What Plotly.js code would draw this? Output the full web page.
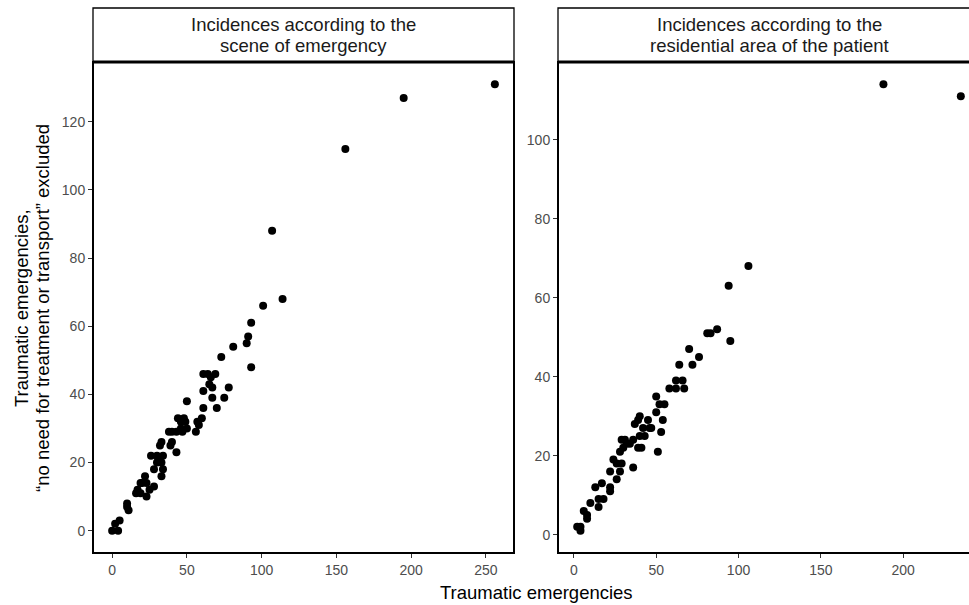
<!DOCTYPE html>
<html>
<head>
<meta charset="utf-8">
<script src="https://cdn.plot.ly/plotly-3.0.1.min.js"></script>
<style>
html,body{margin:0;padding:0;overflow:hidden;background:#fff;}
#chart{width:990px;height:605px;}
</style>
</head>
<body>
<div id="chart"></div>
<script>
// Panel titles (two lines each)
const panelTitles = [
  ["Incidences according to the", "scene of emergency"],
  ["Incidences according to the", "residential area of the patient"]
];
const xAxisTitle = "Traumatic emergencies";
const yAxisTitle = ["Traumatic emergencies,", "“no need for treatment or transport” excluded"];

// Left panel: scene of emergency
const sceneX = [0,4,2,5,10,11,10,17,19,23,20,19,23,25,28,22,16,26,30,34,31,33,28,34,33,30,33,32,40,39,43,44,48,49,46,50,46,47,43,38,40,50,61,60,57,58,56,61,64,69,66,65,61,67,67,70,75,78,73,81,90,91,93,93,101,114,107,156,195,256];
const sceneY = [0,0,2,3,8,6,7,12,11,10,14,14,14,12,13,16,11,22,22,22,21,20,18,18,16,20,26,25,26,25,23,33,33,32,32,30,30,29,29,29,29,38,36,33,32,31,29,46,46,46,45,43,41,42,39,36,39,42,51,54,55,57,61,48,66,68,88,112,127,131];

// Right panel: residential area of the patient
const resX = [2,4,4,6,8,8,10,15,15,18,13,17,22,22,26,22,28,24,26,29,36,28,30,29,31,32,34,36,39,41,40,43,42,46,47,37,40,39,45,50,54,53,51,52,55,50,58,62,67,62,66,64,72,70,76,81,83,87,95,94,106,188,235];
const resY = [2,2,1,6,5,4,8,7,9,9,12,13,12,11,14,16,16,19,18,18,17,21,22,24,24,23,23,24,22,22,25,25,27,27,27,28,30,29,29,31,29,26,21,33,33,35,37,37,37,39,39,43,43,47,45,51,51,52,49,63,68,114,111];

const sceneXTicks = [0,50,100,150,200,250];
const sceneYTicks = [0,20,40,60,80,100,120];
const resXTicks = [0,50,100,150,200,250];
const resYTicks = [0,20,40,60,80,100];

const FONT = "Liberation Sans, Arial, Helvetica, sans-serif";
const marker = {color:"#000", size:8, line:{width:0}};

const traces = [
  {x:sceneX, y:sceneY, type:"scatter", mode:"markers", marker:marker, xaxis:"x", yaxis:"y", hoverinfo:"x+y"},
  {x:resX, y:resY, type:"scatter", mode:"markers", marker:marker, xaxis:"x2", yaxis:"y2", hoverinfo:"x+y"}
];

function rng(arr){const mn=Math.min(...arr), mx=Math.max(...arr), e=(mx-mn)*0.05; return [mn-e, mx+e];}

const axisCommon = {
  showgrid:false, zeroline:false, showline:false,
  ticks:"outside", ticklen:4, tickwidth:1, tickcolor:"#333",
  tickfont:{family:FONT, size:14, color:"#4d4d4d"},
  fixedrange:true
};

const plotW = 990-93-10, plotH = 491;
const d1 = 421/plotW, d2start = (558-93)/plotW;
const stripTop = 1 + 54/plotH;
const pyToDom = p => (553-p)/plotH;

const stripFont = {family:FONT, size:18.5, color:"#1a1a1a"};
const titleFont = {family:FONT, size:18.5, color:"#000"};

const annotations = [];
panelTitles.forEach((lines, i) => {
  const xr = i === 0 ? "x domain" : "x2 domain";
  const yr = i === 0 ? "y domain" : "y2 domain";
  annotations.push({text:lines[0], xref:xr, yref:yr, x:0.5, y:pyToDom(24), xanchor:"center", yanchor:"middle", showarrow:false, font:stripFont});
  annotations.push({text:lines[1], xref:xr, yref:yr, x:0.5, y:pyToDom(45), xanchor:"center", yanchor:"middle", showarrow:false, font:stripFont});
});
annotations.push({text:xAxisTitle, xref:"paper", yref:"paper", x:(536-93)/plotW, y:0, yshift:-39, xanchor:"center", yanchor:"middle", showarrow:false, font:titleFont});
annotations.push({text:yAxisTitle[0], xref:"paper", yref:"paper", x:0, xshift:-72, y:pyToDom(308), xanchor:"center", yanchor:"middle", textangle:-90, showarrow:false, font:titleFont});
annotations.push({text:yAxisTitle[1], xref:"paper", yref:"paper", x:0, xshift:-51, y:pyToDom(308), xanchor:"center", yanchor:"middle", textangle:-90, showarrow:false, font:titleFont});

const layout = {
  width:990, height:605,
  margin:{l:93, r:10, t:62, b:52},
  paper_bgcolor:"#fff", plot_bgcolor:"#fff",
  showlegend:false,
  font:{family:FONT, color:"#000"},
  xaxis:Object.assign({}, axisCommon, {domain:[0,d1], range:rng(sceneX), tickvals:sceneXTicks, anchor:"y"}),
  yaxis:Object.assign({}, axisCommon, {domain:[0,1], range:rng(sceneY), tickvals:sceneYTicks, anchor:"x"}),
  xaxis2:Object.assign({}, axisCommon, {domain:[d2start,1], range:rng(resX), tickvals:resXTicks, anchor:"y2"}),
  yaxis2:Object.assign({}, axisCommon, {domain:[0,1], range:rng(resY), tickvals:resYTicks, anchor:"x2"}),
  shapes:[
    {type:"rect", xref:"x domain", yref:"y domain", x0:0, x1:1, y0:1, y1:stripTop, line:{color:"#000", width:1.3}, fillcolor:"#fff", layer:"below"},
    {type:"rect", xref:"x2 domain", yref:"y2 domain", x0:0, x1:1, y0:1, y1:stripTop, line:{color:"#000", width:1.3}, fillcolor:"#fff", layer:"below"},
    {type:"rect", xref:"x domain", yref:"y domain", x0:0, x1:1, y0:0, y1:1, line:{color:"#000", width:2}},
    {type:"rect", xref:"x2 domain", yref:"y2 domain", x0:0, x1:1, y0:0, y1:1, line:{color:"#000", width:2}},
    {type:"line", xref:"x domain", yref:"y domain", x0:0, x1:1, y0:1, y1:1, line:{color:"#000", width:3}},
    {type:"line", xref:"x2 domain", yref:"y2 domain", x0:0, x1:1, y0:1, y1:1, line:{color:"#000", width:3}}
  ],
  annotations:annotations
};

Plotly.newPlot("chart", traces, layout, {displayModeBar:false, staticPlot:true});
</script>
</body>
</html>
